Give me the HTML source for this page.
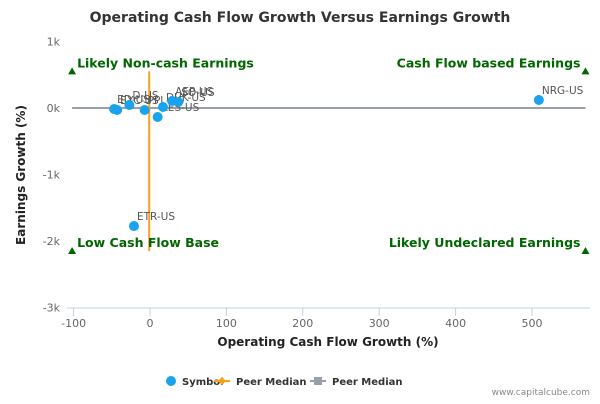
<!DOCTYPE html>
<html><head><meta charset="utf-8"><style>
body{margin:0;background:#fff;font-family:"DejaVu Sans","Liberation Sans",sans-serif}
</style></head><body>
<svg id="chart" width="600" height="400" xmlns="http://www.w3.org/2000/svg">
<rect width="600" height="400" fill="#fff"/>
<text x="300" y="22" text-anchor="middle" font-size="14" font-weight="bold" fill="#333">Operating Cash Flow Growth Versus Earnings Growth</text>
<g id="axes"></g><g id="marks"></g>
<text x="328" y="346" text-anchor="middle" font-size="12" font-weight="bold" fill="#222">Operating Cash Flow Growth (%)</text>
<text transform="translate(25,175) rotate(-90)" text-anchor="middle" font-size="12" font-weight="bold" fill="#222">Earnings Growth (%)</text>
<g font-size="10" font-weight="bold" fill="#333">
<g><circle cx="171" cy="381" r="5" fill="#1aa3ec"/><text x="182" y="385">Symbol</text></g>
<g><line x1="214" y1="381" x2="230" y2="381" stroke="#f7a11a" stroke-width="2"/><path d="M222 377 L226 381 L222 385 L218 381Z" fill="#f7a11a"/><text x="236" y="385">Peer Median</text></g>
<g><line x1="310" y1="381" x2="326" y2="381" stroke="#9aa0ab" stroke-width="2"/><rect x="314" y="377" width="8" height="8" fill="#9aa0ab"/><text x="332" y="385">Peer Median</text></g>
</g>
<text x="590" y="395" text-anchor="end" font-size="9" fill="#888">www.capitalcube.com</text>
</svg>
<script>
const xTicks=[-100,0,100,200,300,400,500];
const yTicks=[1000,0,-1000,-2000,-3000];
const yTickLabels=["1k","0k","-1k","-2k","-3k"];
const symbols=["ED-US","EXC-US","D-US","PPL-US","AES-US","DUK-US","AEP-US","SO-US","NRG-US","ETR-US"];
const ocfGrowth=[-47,-43,-27,-7,10,17,29,37,509,-21];
const earnGrowth=[-15,-30,45,-30,-135,15,105,90,120,-1775];
const peerMedianX=-1, peerMedianY=0;
const quadrantLabels=["Likely Non-cash Earnings","Cash Flow based Earnings","Low Cash Flow Base","Likely Undeclared Earnings"];
const quadX=[-102,570,-102,570], quadY=[550,550,-2150,-2150];
const X=v=>150+v*0.764, Y=v=>108-v*0.0665;
const NS="http://www.w3.org/2000/svg";
function mk(p,t,a){const e=document.createElementNS(NS,t);for(const k in a)e.setAttribute(k,a[k]);p.appendChild(e);return e;}
const ax=document.getElementById('axes'), mg=document.getElementById('marks');
const xl=mk(ax,'line',{x1:67,x2:590,y1:308,y2:308,stroke:'#c0d0e0'});

xTicks.forEach(t=>{const g=mk(ax,'g',{});

mk(g,'line',{x1:X(t),x2:X(t),y1:308,y2:316,stroke:'#c0d0e0'});
const tx=mk(g,'text',{x:X(t),y:327,'text-anchor':'middle','font-size':11,fill:'#666'});tx.textContent=t;});
yTicks.forEach((t,i)=>{const tx=mk(ax,'text',{x:60,y:Y(t)+4,'text-anchor':'end','font-size':11,fill:'#666'});
tx.textContent=yTickLabels[i];});
const hl=mk(mg,'line',{x1:X(-102),x2:X(570),y1:Y(peerMedianY),y2:Y(peerMedianY),stroke:'#9aa0ab','stroke-width':2});

const vl=mk(mg,'line',{x1:X(peerMedianX),x2:X(peerMedianX),y1:Y(550),y2:Y(-2150),stroke:'#f7a11a','stroke-width':2});

quadrantLabels.forEach((q,i)=>{const g=mk(mg,'g',{});

const x=X(quadX[i]),y=Y(quadY[i]);
mk(g,'path',{d:`M${x} ${y-4} L${x+4} ${y+3} L${x-4} ${y+3}Z`,fill:'#006600'});
const left=i%2==0;
const tx=mk(g,'text',{x:left?x+5:x-5,y:y-4,'text-anchor':left?'start':'end','font-size':12.5,'font-weight':'bold',fill:'#006600'});tx.textContent=q;});
symbols.forEach((s,i)=>{const g=mk(mg,'g',{});

const x=X(ocfGrowth[i]),y=Y(earnGrowth[i]);
mk(g,'circle',{cx:x,cy:y,r:5,fill:'#1aa3ec'});
const tx=mk(g,'text',{x:x+3,y:y-6,'font-size':10.5,fill:'#555'});tx.textContent=s;});
</script>
</body></html>
